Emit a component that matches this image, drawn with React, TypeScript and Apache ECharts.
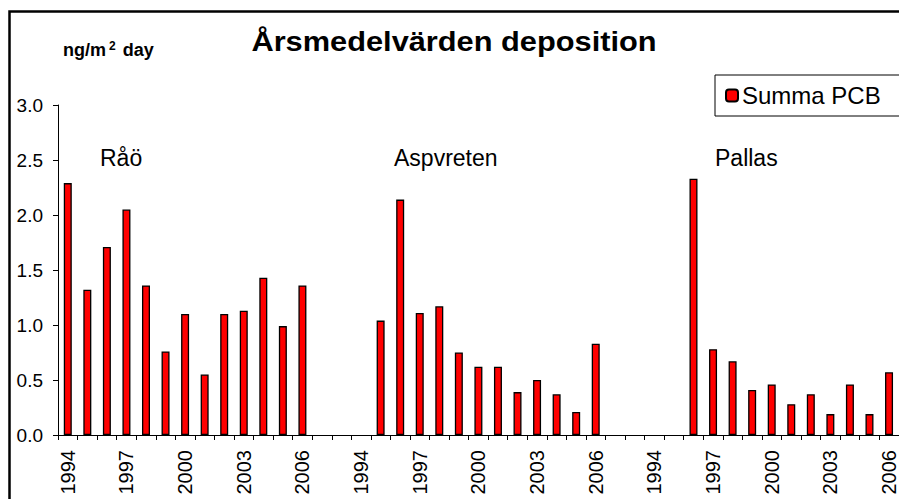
import React, { useEffect, useRef } from "react";
import * as echarts from "echarts";

const years = ["1994","1995","1996","1997","1998","1999","2000","2001","2002","2003","2004","2005","2006"];
const gapCategories = ["", ""];
const raoValues: (number | null)[] = [2.29, 1.32, 1.71, 2.05, 1.36, 0.76, 1.10, 0.55, 1.10, 1.13, 1.43, 0.99, 1.36];
const aspvretenValues: (number | null)[] = [null, 1.04, 2.14, 1.11, 1.17, 0.75, 0.62, 0.62, 0.39, 0.50, 0.37, 0.21, 0.83];
const pallasValues: (number | null)[] = [null, null, 2.33, 0.78, 0.67, 0.41, 0.46, 0.28, 0.37, 0.19, 0.46, 0.19, 0.57];
const yTicks = [0, 0.5, 1.0, 1.5, 2.0, 2.5, 3.0];
const stationNames = ["Råö", "Aspvreten", "Pallas"];
const seriesName = "Summa PCB";
const titleText = "Årsmedelvärden deposition";

const FONT = "'Liberation Sans', Arial, sans-serif";

export default function App() {
  const ref = useRef<HTMLDivElement>(null);
  useEffect(() => {
    if (!ref.current) return;
    const chart = echarts.init(ref.current, undefined, { renderer: "svg" });
    const categories = [...years, ...gapCategories, ...years, ...gapCategories, ...years];
    const values = [...raoValues, null, null, ...aspvretenValues, null, null, ...pallasValues];
    chart.setOption({
      animation: false,
      backgroundColor: "#ffffff",
      textStyle: { fontFamily: FONT },
      grid: { left: 58, top: 105, width: 843.5, height: 330, containLabel: false },
      legend: {
        show: true,
        left: 715,
        top: 75,
        orient: "horizontal",
        data: [seriesName],
        itemWidth: 12,
        itemHeight: 12,
        itemGap: 0,
        padding: [8, 30, 8, 10],
        borderColor: "#000",
        borderWidth: 1,
        selectedMode: false,
        textStyle: { fontSize: 24, color: "#000", fontFamily: FONT, lineHeight: 25, padding: [0, 0, 0, -1] },
      },
      xAxis: {
        type: "category",
        data: categories,
        boundaryGap: true,
        axisLine: { show: true, lineStyle: { color: "#000", width: 1 } },
        axisTick: { show: true, interval: 0, length: 5, lineStyle: { color: "#000" } },
        axisLabel: { interval: 2, rotate: 90, fontSize: 20, color: "#000", margin: 15, fontFamily: FONT },
        splitLine: { show: false },
      },
      yAxis: {
        type: "value",
        min: 0,
        max: 3,
        interval: 0.5,
        axisLine: { show: true, lineStyle: { color: "#000", width: 1 } },
        axisTick: { show: true, length: 5, lineStyle: { color: "#000" } },
        axisLabel: {
          fontSize: 19,
          color: "#000",
          margin: 15,
          fontFamily: FONT,
          formatter: (v: number) => (yTicks.includes(v) ? v.toFixed(1) : ""),
        },
        splitLine: { show: false },
      },
      series: [
        {
          type: "bar",
          name: seriesName,
          data: values,
          barWidth: 8,
          itemStyle: { color: "#ff0000", borderColor: "#000", borderWidth: 1.3 },
        },
      ],
      graphic: [
        {
          type: "rect",
          silent: true,
          shape: { x: 9.5, y: 11.5, width: 1200, height: 1200 },
          style: { fill: "none", stroke: "#000", lineWidth: 2.5 },
        },
        {
          type: "text",
          x: 454,
          y: 42,
          scaleX: 1.14,
          style: {
            text: titleText,
            fontSize: 27,
            fontWeight: "bold",
            fontFamily: FONT,
            fill: "#000",
            textAlign: "center",
            textVerticalAlign: "middle",
          },
        },
        {
          type: "text",
          x: 63,
          y: 50,
          style: {
            text: "{a|ng/m}{s|2}{a| day}",
            fontFamily: FONT,
            textVerticalAlign: "middle",
            rich: {
              a: { fontSize: 18, fontWeight: "bold", color: "#000", fontFamily: FONT },
              s: { fontSize: 12, fontWeight: "bold", color: "#000", fontFamily: FONT, padding: [0, 2, 9, 3] },
            },
          },
        },
        {
          type: "text",
          x: 100,
          y: 158,
          style: { text: stationNames[0], fontSize: 23, fontFamily: FONT, fill: "#000", textVerticalAlign: "middle" },
        },
        {
          type: "text",
          x: 394,
          y: 158,
          style: { text: stationNames[1], fontSize: 23, fontFamily: FONT, fill: "#000", textVerticalAlign: "middle" },
        },
        {
          type: "text",
          x: 715,
          y: 158,
          style: { text: stationNames[2], fontSize: 23, fontFamily: FONT, fill: "#000", textVerticalAlign: "middle" },
        },
      ],
    });
    return () => chart.dispose();
  }, []);
  return (
    <div
      ref={ref}
      style={{ position: "fixed", left: 0, top: 0, width: 899, height: 499, background: "#fff" }}
    />
  );
}
